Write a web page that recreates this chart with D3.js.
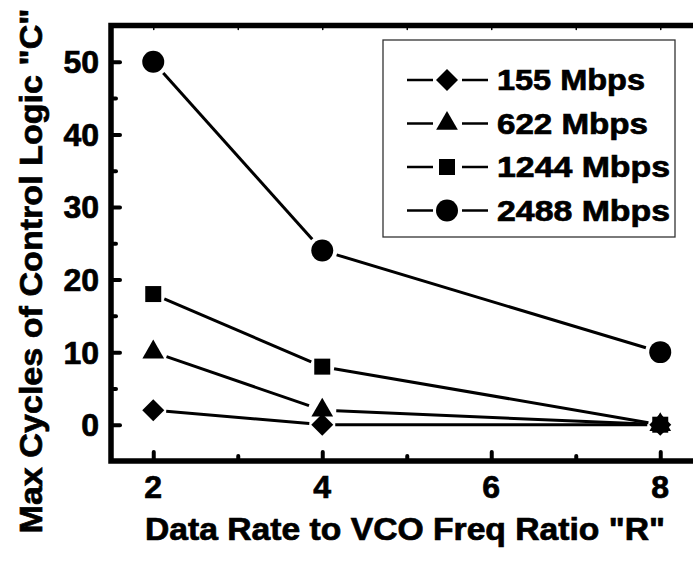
<!DOCTYPE html>
<html>
<head>
<meta charset="utf-8">
<script src="https://cdn.jsdelivr.net/npm/d3@7"></script>
<style>
  body { margin: 0; background: #fff; }
  text { font-family: "Liberation Sans", Arial, Helvetica, sans-serif; font-weight: bold; fill: #000; stroke: #000; stroke-width: 0.7px; }
</style>
</head>
<body>
<svg id="chart" width="693" height="565"></svg>
<script>
// data
var ratios = [2, 4, 8];
var seriesNames = ["155 Mbps", "622 Mbps", "1244 Mbps", "2488 Mbps"];
var cycles155 = [2, 0, 0];
var cycles622 = [10, 2, 0];
var cycles1244 = [18, 8, 0];
var cycles2488 = [50, 24, 10];
var xMajorTicks = [2, 4, 6, 8];
var xMinorTicks = [3, 5, 7];
var yMajorTicks = [0, 10, 20, 30, 40, 50];
var yMinorTicks = [5, 15, 25, 35, 45];

var allSeries = [cycles155, cycles622, cycles1244, cycles2488];

// marker look per series: diamond, triangle, square, circle
var markers = [
    {type: d3.symbolSquare, size: 242, rotate: 45, gap: 13},
    {type: d3.symbolTriangle, size: 204, rotate: 0, gap: 14},
    {type: d3.symbolSquare, size: 256, rotate: 0, gap: 12},
    {type: d3.symbolCircle, size: 380, rotate: 0, gap: 15}
];

var svg = d3.select("#chart");
// note: "top" is taken by window.top, so plot* names
var plotLeft = 111, plotRight = 702.5, plotTop = 25.5, plotBottom = 461;

var x = d3.scaleLinear().domain([1.5, 8.5]).range([plotLeft, plotRight]);
var y = d3.scaleLinear().domain([-5, 55]).range([plotBottom, plotTop]);

// ticks
function styleTicks(g, w) {
    g.select(".domain").remove();
    g.selectAll("line").attr("stroke", "#000").attr("stroke-width", w).attr("stroke-linecap", "round");
}

svg.append("g").attr("transform", "translate(0," + plotBottom + ")")
    .call(d3.axisBottom(x).tickValues(xMajorTicks).tickSize(-9).tickFormat(""))
    .call(styleTicks, 4);
svg.append("g").attr("transform", "translate(0," + plotBottom + ")")
    .call(d3.axisBottom(x).tickValues(xMinorTicks).tickSize(-5).tickFormat(""))
    .call(styleTicks, 4);
svg.append("g").attr("transform", "translate(" + plotLeft + ",0)")
    .call(d3.axisLeft(y).tickValues(yMajorTicks).tickSize(-9).tickFormat(""))
    .call(styleTicks, 4);
svg.append("g").attr("transform", "translate(" + plotLeft + ",0)")
    .call(d3.axisLeft(y).tickValues(yMinorTicks).tickSize(-5).tickFormat(""))
    .call(styleTicks, 4);
svg.append("g").attr("transform", "translate(0," + plotTop + ")")
    .call(d3.axisTop(x).tickValues(d3.range(2, 9)).tickSize(-4).tickFormat(""))
    .call(styleTicks, 1.5);

// tick labels
svg.append("g").selectAll("text")
    .data(xMajorTicks)
    .enter().append("text")
        .attr("x", function(d) { return x(d); })
        .attr("y", 498)
        .attr("text-anchor", "middle")
        .style("font-size", "32px")
        .text(function(d) { return d; });

svg.append("g").selectAll("text")
    .data(yMajorTicks)
    .enter().append("text")
        .attr("x", 99)
        .attr("y", function(d) { return y(d) + 11.5; })
        .attr("text-anchor", "end")
        .style("font-size", "32px")
        .text(function(d) { return d; });

// frame (left, top, bottom; right side is cut off)
svg.append("path")
    .attr("d", "M693," + plotTop + "H" + plotLeft + "V" + plotBottom + "H693")
    .attr("fill", "none")
    .attr("stroke", "#000")
    .attr("stroke-width", 5.5)
    .attr("stroke-linejoin", "miter");

// axis titles
svg.append("text")
    .attr("x", 405)
    .attr("y", 540)
    .attr("text-anchor", "middle")
    .style("font-size", "31px")
    .attr("textLength", 520)
    .attr("lengthAdjust", "spacingAndGlyphs")
    .text('Data Rate to VCO Freq Ratio "R"');

svg.append("text")
    .attr("transform", "translate(42,271) rotate(-90)")
    .attr("text-anchor", "middle")
    .style("font-size", "32px")
    .attr("textLength", 525)
    .attr("lengthAdjust", "spacingAndGlyphs")
    .text('Max Cycles of Control Logic "C"');

// connecting lines with gaps around the markers
var lineLayer = svg.append("g");
allSeries.forEach(function(vals, si) {
    var gap = markers[si].gap;
    for (var i = 0; i < vals.length - 1; i += 1) {
        var x0 = x(ratios[i]), y0 = y(vals[i]);
        var x1 = x(ratios[i + 1]), y1 = y(vals[i + 1]);
        var len = Math.sqrt((x1 - x0) * (x1 - x0) + (y1 - y0) * (y1 - y0));
        var ux = (x1 - x0) / len, uy = (y1 - y0) / len;
        lineLayer.append("line")
            .attr("x1", x0 + ux * gap).attr("y1", y0 + uy * gap)
            .attr("x2", x1 - ux * gap).attr("y2", y1 - uy * gap)
            .attr("stroke", "#000")
            .attr("stroke-width", 3);
    }
});

// markers
allSeries.forEach(function(vals, si) {
    var m = markers[si];
    svg.append("g").selectAll("path")
        .data(vals)
        .enter().append("path")
            .attr("d", d3.symbol().type(m.type).size(m.size))
            .attr("transform", function(d, i) {
                return "translate(" + x(ratios[i]) + "," + y(d) + ") rotate(" + m.rotate + ")";
            })
            .attr("fill", "#000");
});

// legend
var legend = svg.append("g");
legend.append("rect")
    .attr("x", 383).attr("y", 40)
    .attr("width", 292).attr("height", 197)
    .attr("fill", "#fff")
    .attr("stroke", "#333")
    .attr("stroke-width", 1.3);

var labelWidths = [148, 151, 173, 173];
seriesNames.forEach(function(name, si) {
    var cy = 80 + si * 43.5;
    var m = markers[si];
    legend.append("line")
        .attr("x1", 407).attr("x2", 433).attr("y1", cy).attr("y2", cy)
        .attr("stroke", "#000").attr("stroke-width", 2.5);
    legend.append("line")
        .attr("x1", 462).attr("x2", 488).attr("y1", cy).attr("y2", cy)
        .attr("stroke", "#000").attr("stroke-width", 2.5);
    legend.append("path")
        .attr("d", d3.symbol().type(m.type).size(m.size))
        .attr("transform", "translate(447," + cy + ") rotate(" + m.rotate + ")")
        .attr("fill", "#000");
    legend.append("text")
        .attr("x", 497)
        .attr("y", cy + 10)
        .style("font-size", "29px")
        .attr("textLength", labelWidths[si])
        .attr("lengthAdjust", "spacingAndGlyphs")
        .text(name);
});
</script>
</body>
</html>
